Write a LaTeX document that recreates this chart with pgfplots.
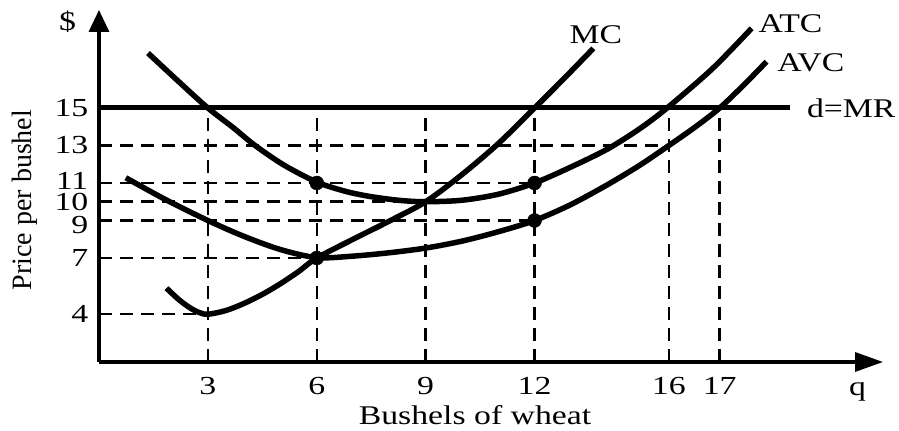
\documentclass[border=0pt]{standalone}
\usepackage{fontspec}
\setmainfont{Liberation Serif}
\usepackage{pgfplots}
\pgfplotsset{compat=1.18}
\usetikzlibrary{arrows.meta}
\begin{document}
\begin{tikzpicture}[
  lbl/.style={font=\fontsize{27}{32}\selectfont, xscale=1.25, inner sep=0pt},
  curve/.style={line width=5.5pt, smooth, tension=0.5},
  guide/.style={line width=2.5pt, dash pattern=on 13pt off 8pt},
]
\begin{axis}[
  x=36.3pt, y=18.75pt,
  xmin=0, xmax=21.6, ymin=1.453, ymax=20.23,
  axis lines=left,
  axis line style={line width=3.3pt},
  x axis line style={-{Triangle[length=28pt,width=19pt]}},
  y axis line style={-{Triangle[length=22pt,width=20pt]}},
  xtick={3,6,9,12,15.7,17.1}, xticklabels={3,6,9,12,16,17},
  ytick={4,7,9,10,11,13,15},
  yticklabels={4,7,\raisebox{-5pt}[\height][\depth]{9},10,\raisebox{2pt}[\height][\depth]{11},13,15},
  major tick length=0pt,
  tick style={draw=none},
  xticklabel style={font=\fontsize{26}{30}\selectfont, xscale=1.3, inner sep=0pt, anchor=north, yshift=-15pt},
  yticklabel style={font=\fontsize{26}{30}\selectfont, xscale=1.3, inner sep=0pt, anchor=east, xshift=-8pt},
  clip=false,
]
% guide lines
\addplot[guide] coordinates {(0,13) (15.7,13)};
\addplot[guide] coordinates {(0,11) (12,11)};
\addplot[guide] coordinates {(0,10) (9,10)};
\addplot[guide] coordinates {(0,9) (12,9)};
\addplot[guide] coordinates {(0,7) (6,7)};
\addplot[guide] coordinates {(0,4) (3,4)};
\addplot[guide] coordinates {(3,1.453) (3,15)};
\addplot[guide] coordinates {(6,1.453) (6,15)};
\addplot[guide] coordinates {(9,1.453) (9,15)};
\addplot[guide] coordinates {(12,1.453) (12,15)};
\addplot[guide] coordinates {(15.7,1.453) (15.7,15)};
\addplot[guide] coordinates {(17.1,1.453) (17.1,15)};
% d = MR
\addplot[line width=5pt] coordinates {(0,15) (19.05,15)};
% ATC
\addplot[curve] coordinates {(1.35,17.93) (2.2,16.4) (3,15) (3.7,13.95) (4.3,13) (5.1,11.95) (6,11.05) (6.8,10.55) (7.5,10.27) (8.3,10.07) (9,10) (10,10.08) (11,10.4) (12,11) (13,11.85) (14,12.8) (14.9,13.9) (15.65,15) (16.9,17.1) (17.98,19.25)};
% AVC
\addplot[curve] coordinates {(0.74,11.28) (1.8,10.15) (3,9) (4,8.15) (5,7.45) (6,7.02) (7,7.1) (8,7.28) (9,7.53) (10,7.9) (11,8.4) (12,9) (13,9.85) (14,10.9) (14.9,11.95) (15.7,13) (16.4,13.95) (17.1,15) (17.8,16.3) (18.39,17.47)};
% MC
\addplot[curve] coordinates {(1.86,5.39) (2.2,4.78) (2.5,4.35) (2.75,4.1) (3,4) (3.5,4.2) (4,4.58) (4.5,5.06) (5,5.63) (5.5,6.28) (6,7) (7,8) (8,8.97) (9,10) (10,11.45) (11,13.1) (12,15) (12.8,16.55) (13.62,18.18)};
% dots
\addplot[only marks, mark=*, mark size=7pt] coordinates {(6,11) (12,11) (6,7) (12,9)};
% labels
\node[lbl, anchor=base] at (axis cs:10.36,-1.9) {Bushels of wheat};
\node[font=\fontsize{28}{32}\selectfont, rotate=90, anchor=base, inner sep=0pt] at (axis cs:-1.86,10.09) {Price per bushel};
\node[lbl] at (axis cs:-0.868,19.6) {\$};
\node[lbl] at (axis cs:13.69,18.89) {MC};
\node[lbl] at (axis cs:19.05,19.51) {ATC};
\node[lbl] at (axis cs:19.61,17.43) {AVC};
\node[lbl, anchor=west] at (axis cs:19.5,14.97) {d=MR};
\node[lbl, anchor=base] at (axis cs:20.9,-0.32) {q};
\coordinate (bl) at (axis cs:-2.727,-2.227);
\coordinate (tr) at (axis cs:22.04,20.76);
\end{axis}
\pgfresetboundingbox
\useasboundingbox (bl) rectangle (tr);
\end{tikzpicture}
\end{document}
